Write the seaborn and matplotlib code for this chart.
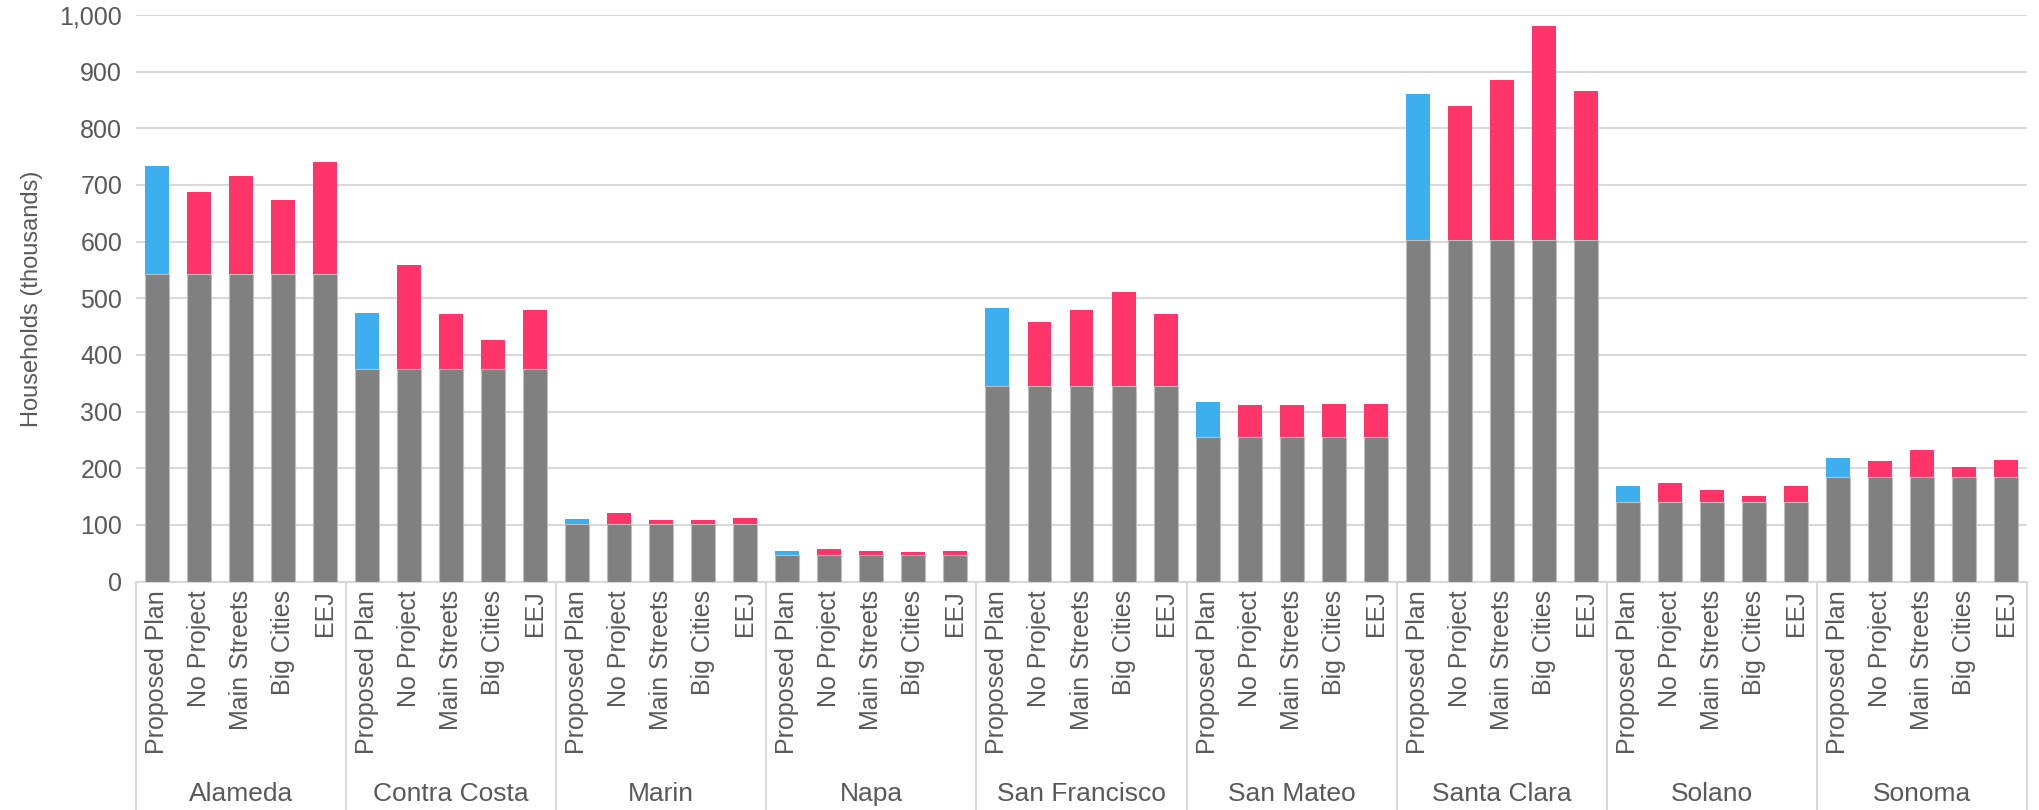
import pandas as pd
import numpy as np
import matplotlib
matplotlib.use('Agg')
import matplotlib.pyplot as plt
import matplotlib.ticker as mticker
import seaborn as sns

counties = ['Alameda', 'Contra Costa', 'Marin', 'Napa', 'San Francisco',
            'San Mateo', 'Santa Clara', 'Solano', 'Sonoma']
scenarios = ['Proposed Plan', 'No Project', 'Main Streets', 'Big Cities', 'EEJ']

# existing households (gray base), thousands
base = [543, 375, 102, 47, 345, 256, 603, 141, 185]

# total households by scenario, thousands
tot_proposed = [734, 474, 111, 54, 483, 317, 861, 169, 218]
tot_noproj = [687, 559, 121, 58, 458, 311, 839, 174, 213]
tot_mainst = [715, 472, 109, 54, 480, 311, 886, 161, 232]
tot_bigcity = [673, 427, 109, 52, 512, 314, 980, 151, 202]
tot_eej = [741, 480, 113, 54, 472, 314, 865, 168, 215]

totals = {'Proposed Plan': tot_proposed, 'No Project': tot_noproj,
          'Main Streets': tot_mainst, 'Big Cities': tot_bigcity, 'EEJ': tot_eej}

rows = []
for i, c in enumerate(counties):
    for s in scenarios:
        rows.append({'slot': c + '|' + s, 'county': c, 'scenario': s,
                     'base': base[i], 'total': totals[s][i],
                     'kind': 'plan' if s == 'Proposed Plan' else 'alt'})
df = pd.DataFrame(rows)
order = list(df['slot'])

sns.set_style('white')
plt.rcParams['font.family'] = ['Liberation Sans', 'DejaVu Sans']
txt = '#595959'

fig = plt.figure(figsize=(20.4, 8.1), dpi=100)
ax = fig.add_axes([0.0667, 0.2819, 0.9269, 0.6996])

sns.barplot(data=df, x='slot', y='total', hue='kind', order=order, dodge=False,
            palette={'plan': '#3DAFEE', 'alt': '#FF3469'}, saturation=1, width=0.57,
            linewidth=0, legend=False, ax=ax, zorder=2)
sns.barplot(data=df, x='slot', y='base', order=order, color='#808080', saturation=1,
            width=0.57, edgecolor='#bdbdbd', linewidth=0.8, ax=ax, zorder=3)

ax.set_ylim(0, 1000)
ax.set_xlim(-0.5, len(order) - 0.5)
ax.yaxis.set_major_locator(mticker.MultipleLocator(100))
ax.yaxis.set_major_formatter(mticker.FuncFormatter(lambda v, p: f'{int(v):,}'))
ax.grid(axis='y', color='#d9d9d9', linewidth=1.5, zorder=0)
ax.set_axisbelow(True)
for sp in ['top', 'right', 'left']:
    ax.spines[sp].set_visible(False)
ax.spines['bottom'].set_color('#d9d9d9')
ax.spines['bottom'].set_linewidth(1.5)

ax.tick_params(axis='y', length=0, labelsize=18, labelcolor=txt, pad=10)
ax.tick_params(axis='x', length=0, labelsize=18, labelcolor=txt, pad=6)
ax.set_xticks(range(len(order)))
ax.set_xticklabels(list(df['scenario']), rotation=90, va='top')
ax.set_xlabel('')
ax.set_ylabel('Households (thousands)', fontsize=17, color=txt, labelpad=12)

trans = ax.get_xaxis_transform()
n = len(scenarios)
for i, c in enumerate(counties):
    ax.text(i * n + (n - 1) / 2, -0.375, c, transform=trans, ha='center', va='center',
            fontsize=19, color=txt, family=['Liberation Sans Narrow', 'Liberation Sans'])
for k in range(len(counties) + 1):
    ax.plot([k * n - 0.5, k * n - 0.5], [0, -0.41], transform=trans, color='#d9d9d9',
            linewidth=1.5, clip_on=False)

plt.savefig('out.png', dpi=100)
plt.close()
